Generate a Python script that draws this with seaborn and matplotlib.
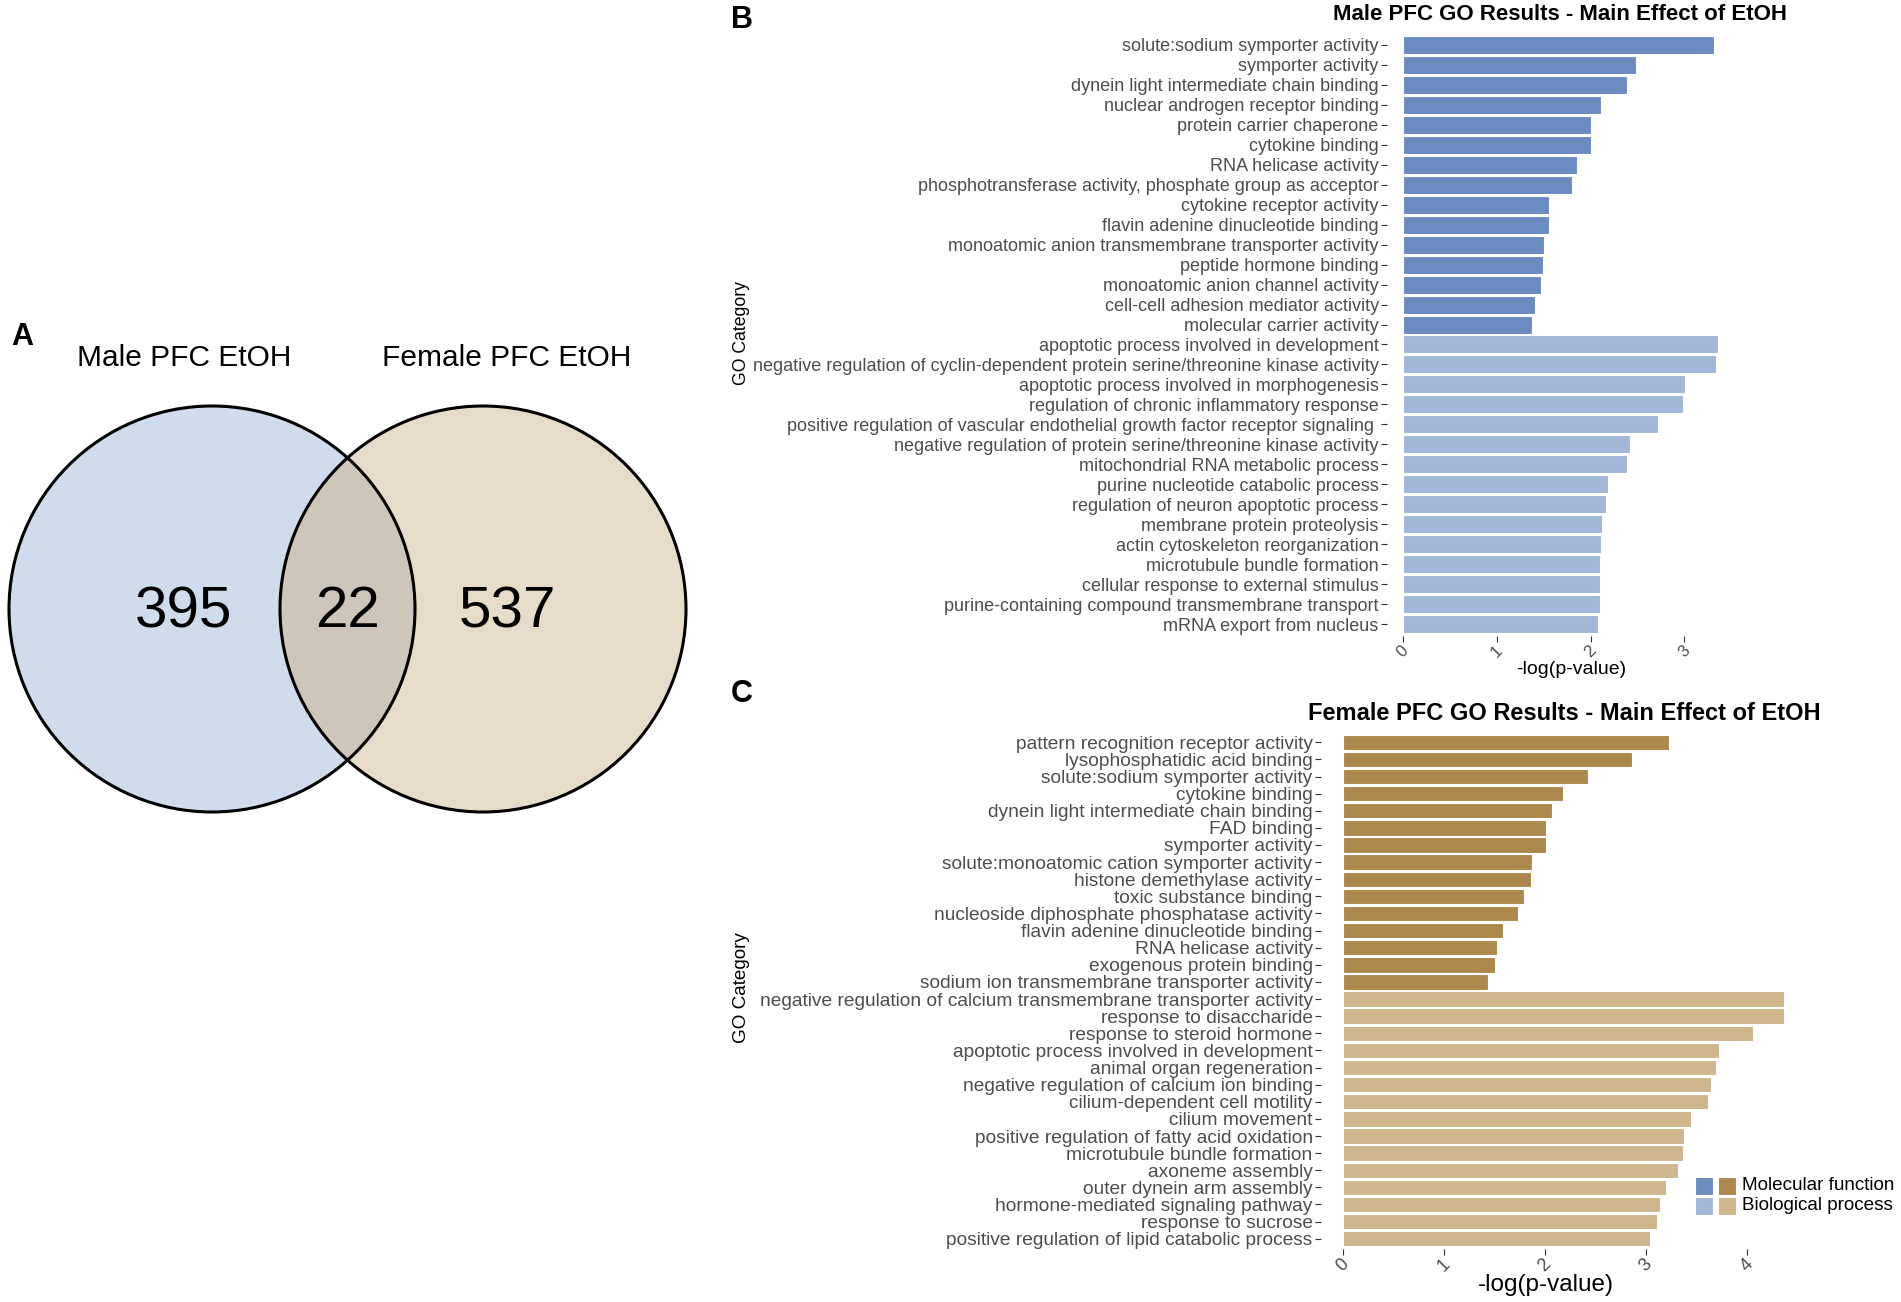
import numpy as np
import pandas as pd
import seaborn as sns
import matplotlib.pyplot as plt
from matplotlib.patches import Circle, Rectangle

W, H = 1901, 1302

# venn counts
venn_sets = ["Male PFC EtOH", "Female PFC EtOH"]
venn_counts = [395, 22, 537]

# male PFC GO terms
male_mf_terms = ["solute:sodium symporter activity", "symporter activity",
    "dynein light intermediate chain binding", "nuclear androgen receptor binding",
    "protein carrier chaperone", "cytokine binding", "RNA helicase activity",
    "phosphotransferase activity, phosphate group as acceptor",
    "cytokine receptor activity", "flavin adenine dinucleotide binding",
    "monoatomic anion transmembrane transporter activity", "peptide hormone binding",
    "monoatomic anion channel activity", "cell-cell adhesion mediator activity",
    "molecular carrier activity"]
male_mf_values = [3.31, 2.48, 2.39, 2.11, 2.01, 2.00, 1.86, 1.80, 1.56, 1.56,
                  1.50, 1.49, 1.47, 1.41, 1.38]
male_bp_terms = ["apoptotic process involved in development",
    "negative regulation of cyclin-dependent protein serine/threonine kinase activity",
    "apoptotic process involved in morphogenesis",
    "regulation of chronic inflammatory response",
    "positive regulation of vascular endothelial growth factor receptor signaling ",
    "negative regulation of protein serine/threonine kinase activity",
    "mitochondrial RNA metabolic process", "purine nucleotide catabolic process",
    "regulation of neuron apoptotic process", "membrane protein proteolysis",
    "actin cytoskeleton reorganization", "microtubule bundle formation",
    "cellular response to external stimulus",
    "purine-containing compound transmembrane transport", "mRNA export from nucleus"]
male_bp_values = [3.36, 3.34, 3.01, 2.98, 2.72, 2.42, 2.39, 2.19, 2.16, 2.12,
                  2.11, 2.10, 2.10, 2.10, 2.08]

# female PFC GO terms
female_mf_terms = ["pattern recognition receptor activity", "lysophosphatidic acid binding",
    "solute:sodium symporter activity", "cytokine binding",
    "dynein light intermediate chain binding", "FAD binding", "symporter activity",
    "solute:monoatomic cation symporter activity", "histone demethylase activity",
    "toxic substance binding", "nucleoside diphosphate phosphatase activity",
    "flavin adenine dinucleotide binding", "RNA helicase activity",
    "exogenous protein binding", "sodium ion transmembrane transporter activity"]
female_mf_values = [3.23, 2.86, 2.43, 2.18, 2.07, 2.01, 2.01, 1.87, 1.86, 1.79,
                    1.73, 1.59, 1.53, 1.51, 1.44]
female_bp_terms = ["negative regulation of calcium transmembrane transporter activity",
    "response to disaccharide", "response to steroid hormone",
    "apoptotic process involved in development", "animal organ regeneration",
    "negative regulation of calcium ion binding", "cilium-dependent cell motility",
    "cilium movement", "positive regulation of fatty acid oxidation",
    "microtubule bundle formation", "axoneme assembly", "outer dynein arm assembly",
    "hormone-mediated signaling pathway", "response to sucrose",
    "positive regulation of lipid catabolic process"]
female_bp_values = [4.37, 4.37, 4.06, 3.73, 3.70, 3.65, 3.62, 3.45, 3.38, 3.37,
                    3.32, 3.20, 3.14, 3.11, 3.04]

go_types = ["Molecular function", "Biological process"]
male_colors = ["#6b8cc0", "#a2b7d7"]
female_colors = ["#ad884d", "#cfb68c"]

sns.set_style("white")
plt.rcParams['font.family'] = ['Liberation Sans', 'DejaVu Sans']
plt.rcParams['text.color'] = 'black'

fig = plt.figure(figsize=(W / 100, H / 100), dpi=100)


def fx(px):
    return px / W


def fy(py):
    return 1 - py / H


def rect(l, t, r, b):
    return [fx(l), fy(b), fx(r) - fx(l), fy(t) - fy(b)]


# ---- panel A: venn ----
ax_v = fig.add_axes([0, 0, 700 / W, 1])
ax_v.set_xlim(0, 700)
ax_v.set_ylim(H, 0)
ax_v.axis('off')
c_left = Circle((212, 609), 203, fc="#d0dbec", ec='none')
c_right = Circle((483, 609), 203, fc="#e6dcc9", ec='none')
ax_v.add_patch(c_left)
ax_v.add_patch(c_right)
c_mid = Circle((212, 609), 203, fc="#cec6ba", ec='none')
ax_v.add_patch(c_mid)
c_mid.set_clip_path(c_right)
for cx in (212, 483):
    ax_v.add_patch(Circle((cx, 609), 203, fc='none', ec='black', lw=2.2))
for x, lab in zip((184, 507), venn_sets):
    ax_v.text(x, 358, lab, ha='center', va='center', fontsize=21.5, color='black')
for x, n in zip((184, 347, 507), venn_counts):
    ax_v.text(x, 612, str(n), ha='center', va='center', fontsize=42, color='black')

fig.text(fx(22), fy(337), "A", fontsize=22, fontweight='bold', ha='center', va='center')
fig.text(fx(742), fy(20), "B", fontsize=22, fontweight='bold', ha='center', va='center')
fig.text(fx(742), fy(694), "C", fontsize=22, fontweight='bold', ha='center', va='center')


def go_panel(box, mf_terms, mf_vals, bp_terms, bp_vals, colors, ytick_fs, xtick_fs):
    ax = fig.add_axes(box)
    df = pd.DataFrame({
        "term": mf_terms + bp_terms,
        "value": mf_vals + bp_vals,
        "type": [go_types[0]] * len(mf_terms) + [go_types[1]] * len(bp_terms)})
    sns.barplot(data=df, x="value", y="term", hue="type", order=df["term"].tolist(),
                hue_order=go_types, palette=colors, dodge=False, width=0.9,
                saturation=1, edgecolor="white", linewidth=0.8, legend=False, ax=ax)
    xmax = df["value"].max()
    ax.set_xlim(-0.05 * xmax, 1.05 * xmax)
    ax.set_ylim(len(df) - 0.4, -0.6)
    ax.set_xticks(range(0, int(xmax) + 1))
    ax.set_xlabel('')
    ax.set_ylabel('')
    sns.despine(ax=ax, left=True, bottom=True)
    ax.tick_params(axis='y', length=4, width=0.8, color='#333333', pad=2,
                   labelsize=ytick_fs, labelcolor='#4d4d4d', left=True)
    ax.tick_params(axis='x', length=4, width=0.8, color='#333333', pad=1,
                   labelsize=xtick_fs, labelcolor='#4d4d4d', bottom=True)
    for t in ax.get_xticklabels():
        t.set_rotation(45)
    return ax


ax_b = go_panel(rect(1387, 33, 1734, 636), male_mf_terms, male_mf_values,
                male_bp_terms, male_bp_values, male_colors, 13, 12)
ax_c = go_panel(rect(1321, 732, 1806, 1249), female_mf_terms, female_mf_values,
                female_bp_terms, female_bp_values, female_colors, 13.8, 13)

fig.text(fx(1560), fy(15), "Male PFC GO Results - Main Effect of EtOH",
         fontsize=16, fontweight='bold', ha='center', va='center')
fig.text(fx(1564), fy(714), "Female PFC GO Results - Main Effect of EtOH",
         fontsize=17, fontweight='bold', ha='center', va='center')
fig.text(fx(1571), fy(670), "-log(p-value)", fontsize=14, ha='center', va='center')
fig.text(fx(1546), fy(1285), "-log(p-value)", fontsize=17.5, ha='center', va='center')
fig.text(fx(742), fy(333), "GO Category", fontsize=12.7, rotation=90, ha='center', va='center')
fig.text(fx(742), fy(988), "GO Category", fontsize=13.6, rotation=90, ha='center', va='center')

# legend: two colour columns (male, female) per GO type
for i, lab in enumerate(go_types):
    top = 1177 + i * 20
    fig.patches.append(Rectangle((fx(1695), fy(top + 18)), fx(18), 18 / H,
                                 transform=fig.transFigure, fc=male_colors[i], ec='white', lw=0.8))
    fig.patches.append(Rectangle((fx(1718), fy(top + 18)), fx(18), 18 / H,
                                 transform=fig.transFigure, fc=female_colors[i], ec='white', lw=0.8))
    fig.text(fx(1742), fy(top + 9), lab, fontsize=13.6, ha='left', va='center')

plt.savefig("out.png", dpi=100)
